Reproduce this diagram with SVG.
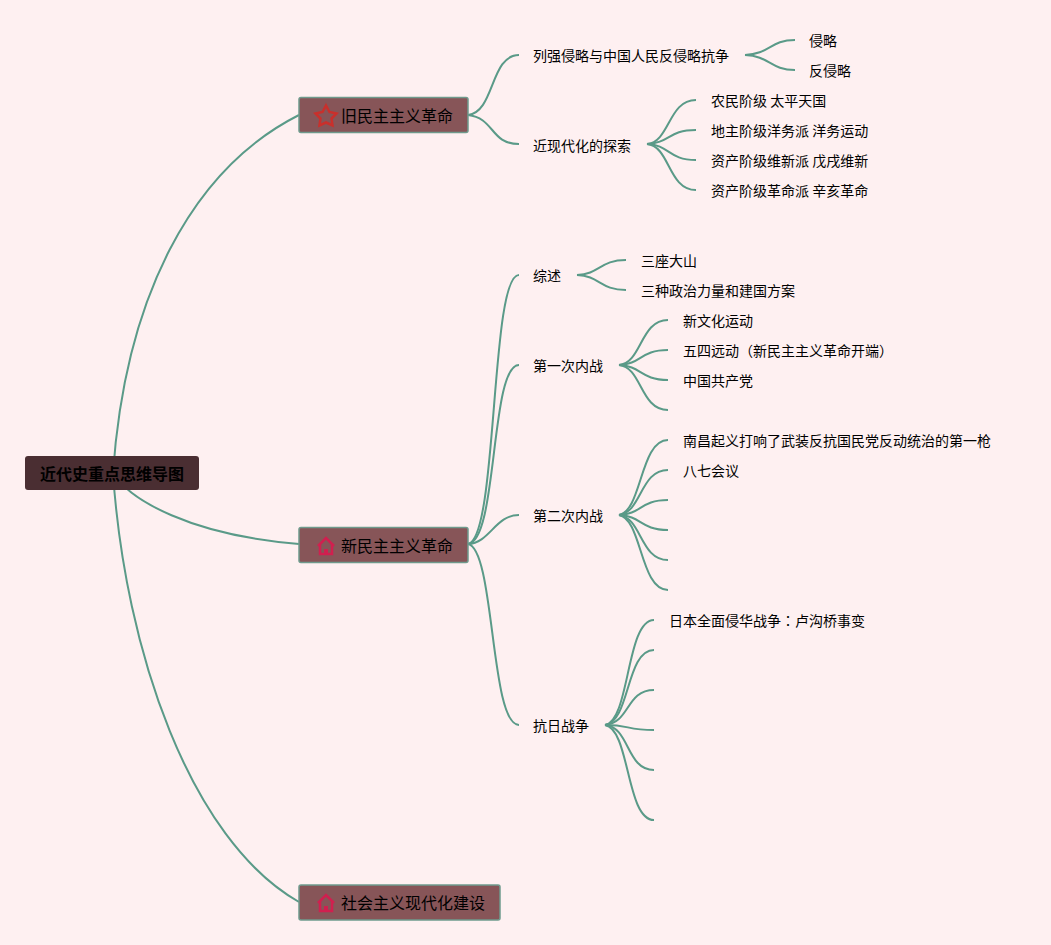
<svg xmlns="http://www.w3.org/2000/svg" width="1051" height="945" viewBox="0 0 1051 945">
<style>
text{font-family:"Noto Sans CJK SC","Noto Sans",sans-serif;fill:#000;dominant-baseline:central}
.t{font-size:14px}
.m{font-size:16px}
.r{font-size:16px;font-weight:700}
.b{fill:#875558;stroke:#6f9a8d;stroke-width:1.5}
#connectors path{fill:none;stroke:#5a9a88;stroke-width:2;stroke-linecap:butt}
.i{fill:none;stroke-width:2.500}
</style>
<rect width="1051" height="945" fill="#fef0f1"/>
<g id="connectors">
<path d="M113 473C125 300 190 170 299 115"/>
<path d="M113 473C130 500 190 535 299 544"/>
<path d="M113 473C125 650 190 840 299 902"/>
<path d="M468 115C495 112 490 55 519 55"/>
<path d="M468 115C495 118 490 144 519 144"/>
<path d="M745 55C770 54 770 40 795 40"/>
<path d="M745 55C770 56 770 70 795 70"/>
<path d="M647 144C670 142 668 100 696 100"/>
<path d="M647 144C670 143 668 130 696 130"/>
<path d="M647 144C670 145 668 160 696 160"/>
<path d="M647 144C670 146 668 190 696 190"/>
<path d="M468 544C498 539 490 275 519 275"/>
<path d="M468 544C498 541 490 365 519 365"/>
<path d="M468 544C490 543 495 515 519 515"/>
<path d="M468 544C495 549 490 725 519 725"/>
<path d="M577 275C600 274 600 260 626 260"/>
<path d="M577 275C600 276 600 290 626 290"/>
<path d="M619 365C642 363 640 320 668 320"/>
<path d="M619 365C642 364 640 350 668 350"/>
<path d="M619 365C642 366 640 380 668 380"/>
<path d="M619 365C642 367 640 410 668 410"/>
<path d="M619 515C642 511 640 440 668 440"/>
<path d="M619 515C642 512 640 470 668 470"/>
<path d="M619 515C642 514 640 500 668 500"/>
<path d="M619 515C642 516 640 530 668 530"/>
<path d="M619 515C642 518 640 560 668 560"/>
<path d="M619 515C642 519 640 590 668 590"/>
<path d="M605 725C630 721 626 620 654 620"/>
<path d="M605 725C630 722 626 650 654 650"/>
<path d="M605 725C630 723 626 690 654 690"/>
<path d="M605 725C630 725 626 730 654 730"/>
<path d="M605 725C630 727 626 770 654 770"/>
<path d="M605 725C630 729 626 820 654 820"/>
</g>
<g id="root"><rect x="25" y="456" width="174" height="34" rx="3" fill="#4a2e32"/><text class="r" x="40" y="473">近代史重点思维导图</text></g>
<g id="n1"><rect class="b" x="299" y="97.500" width="169" height="35" rx="2"/><path class="i" stroke="#c9302c" stroke-width="3" d="M326 105.500L329.500 112L336.500 113.500L331.500 118.500L332.500 125.500L326 122.500L319.500 125.500L320.500 118.500L315.500 113.500L322.500 112Z"/><text class="m" x="341" y="115">旧民主主义革命</text></g>
<g id="n2"><rect class="b" x="299" y="527.500" width="169" height="35" rx="2"/><path class="i" stroke="#d0204f" d="M318 546L326 538L334 546M320 544V554H332V544"/><rect x="324" y="549" width="4" height="5" fill="#d0204f"/><text class="m" x="341" y="545">新民主主义革命</text></g>
<g id="n3"><rect class="b" x="299" y="885" width="201" height="35" rx="2"/><path class="i" stroke="#d0204f" d="M318 903L326 895L334 903M320 901V911H332V901"/><rect x="324" y="906" width="4" height="5" fill="#d0204f"/><text class="m" x="341" y="902">社会主义现代化建设</text></g>
<g id="a1"><text class="t" x="533" y="55">列强侵略与中国人民反侵略抗争</text></g>
<g id="a1a"><text class="t" x="809" y="40">侵略</text></g>
<g id="a1b"><text class="t" x="809" y="70">反侵略</text></g>
<g id="a2"><text class="t" x="533" y="144.500">近现代化的探索</text></g>
<g id="a2a"><text class="t" x="711" y="100">农民阶级 太平天国</text></g>
<g id="a2b"><text class="t" x="711" y="130">地主阶级洋务派 洋务运动</text></g>
<g id="a2c"><text class="t" x="711" y="160">资产阶级维新派 戊戌维新</text></g>
<g id="a2d"><text class="t" x="711" y="190">资产阶级革命派 辛亥革命</text></g>
<g id="b1"><text class="t" x="533" y="275">综述</text></g>
<g id="b1a"><text class="t" x="641" y="260">三座大山</text></g>
<g id="b1b"><text class="t" x="641" y="290">三种政治力量和建国方案</text></g>
<g id="b2"><text class="t" x="533" y="365">第一次内战</text></g>
<g id="b2a"><text class="t" x="683" y="320">新文化运动</text></g>
<g id="b2b"><text class="t" x="683" y="350">五四远动（新民主主义革命开端）</text></g>
<g id="b2c"><text class="t" x="683" y="380">中国共产党</text></g>
<g id="b3"><text class="t" x="533" y="515">第二次内战</text></g>
<g id="b3a"><text class="t" x="683" y="440">南昌起义打响了武装反抗国民党反动统治的第一枪</text></g>
<g id="b3b"><text class="t" x="683" y="470">八七会议</text></g>
<g id="b4"><text class="t" x="533" y="725">抗日战争</text></g>
<g id="b4a"><text class="t" x="669" y="620">日本全面侵华战争<tspan style="font-family:'Noto Sans CJK TC',sans-serif">：</tspan>卢沟桥事变</text></g>
</svg>
